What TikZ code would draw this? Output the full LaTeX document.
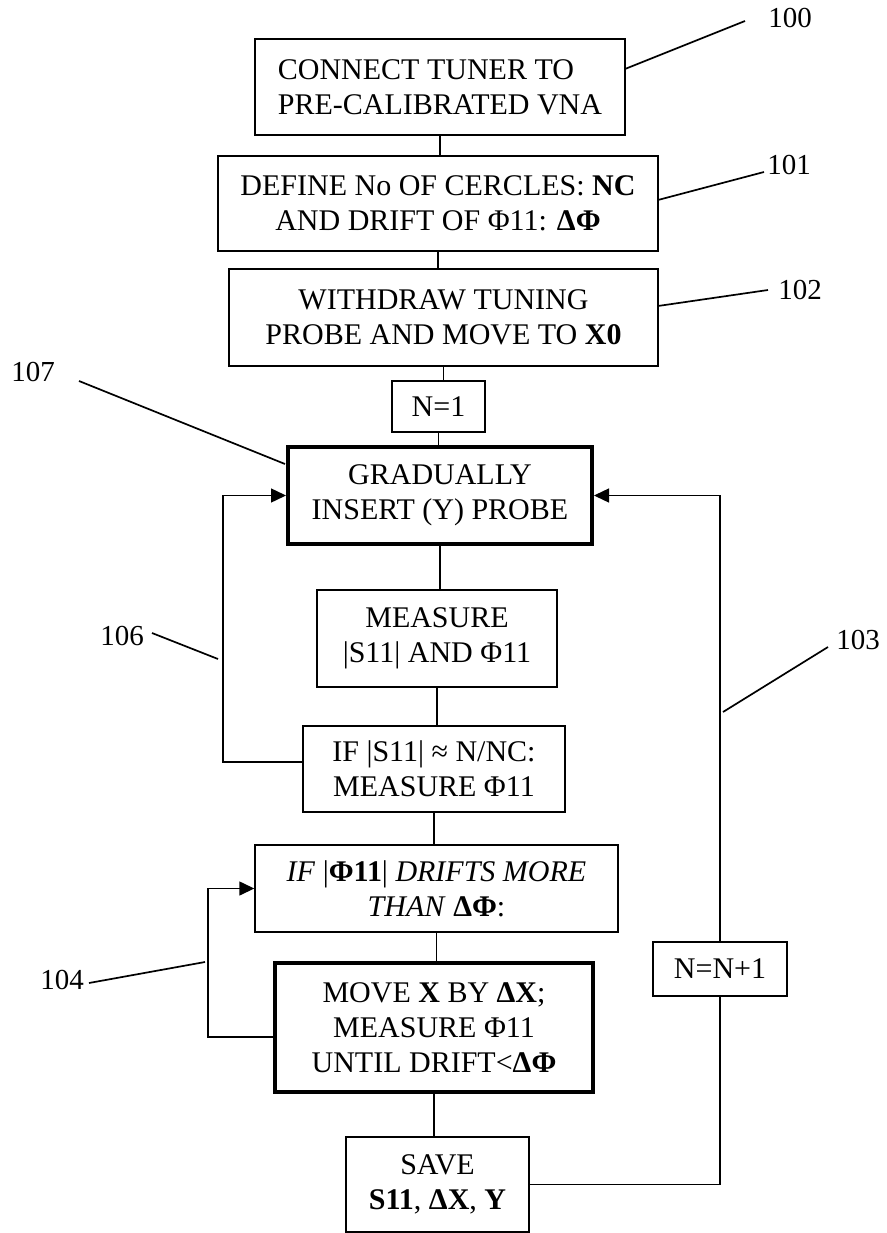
\documentclass[tikz,border=0pt]{standalone}
\usepackage{fontspec}
\setmainfont{Liberation Serif}
\usetikzlibrary{arrows.meta}
\begin{document}
\begin{tikzpicture}[x=1pt,y=-1pt,
  txt/.style={font=\fontsize{30}{35}\selectfont, align=center, inner sep=0pt},
  box/.style={txt, draw, line width=1.4pt, rectangle},
  thickbox/.style={box, line width=4pt},
  conn/.style={line width=1.4pt},
  arr/.style={line width=1.4pt, -{Triangle[length=15pt,width=14pt]}},
  lead/.style={line width=1.7pt},
  lbl/.style={font=\fontsize{29}{34}\selectfont, inner sep=0pt}]
\useasboundingbox (0,0) rectangle (886,1233);
% boxes
\node[box, align=left, minimum width=370, minimum height=96] (b100) at (440,87) {CONNECT TUNER TO\\PRE-CALIBRATED VNA};
\node[box, minimum width=440, minimum height=95] (b101) at (438,203.5) {DEFINE No OF CERCLES: \textbf{NC}\\AND DRIFT OF Φ11: \textbf{ΔΦ}};
\node[box, minimum width=429, minimum height=97] (b102) at (443.5,317.5) {WITHDRAW TUNING\\PROBE AND MOVE TO \textbf{X0}};
\node[box, minimum width=93, minimum height=51] (n1) at (438.5,406.5) {N=1};
\node[thickbox, minimum width=304, minimum height=97] (grad) at (440,495.5) {GRADUALLY\\INSERT (Y) PROBE};
\node[box, minimum width=240, minimum height=97] (meas) at (437,638.5) {MEASURE\\|S11| AND Φ11};
\node[box, minimum width=262, minimum height=86] (ifs) at (434,769) {IF |S11| ≈ N/NC:\\MEASURE Φ11};
\node[box, minimum width=363, minimum height=87] (ifp) at (436.5,888.5) {\textit{IF} |\textbf{Φ11}| \textit{DRIFTS MORE}\\\textit{THAN} \textbf{ΔΦ}:};
\node[thickbox, minimum width=318, minimum height=129] (move) at (434,1027.5) {MOVE \textbf{X} BY \textbf{ΔX};\\MEASURE Φ11\\UNTIL DRIFT<\textbf{ΔΦ}};
\node[box, minimum width=183, minimum height=95] (save) at (437.5,1184.5) {SAVE\\\textbf{S11}, \textbf{ΔX}, \textbf{Y}};
\node[box, minimum width=134, minimum height=54] (nn) at (720,969) {N=N+1};
% vertical connectors
\draw[conn] (b100.south) -- (b100.south |- b101.north);
\draw[conn] (b101.south) -- (b101.south |- b102.north);
\draw[conn] (b102.south) -- (b102.south |- n1.north);
\draw[conn] (n1.south) -- (n1.south |- grad.north);
\draw[conn] (grad.south) -- (grad.south |- meas.north);
\draw[conn] (meas.south) -- (meas.south |- ifs.north);
\draw[conn] (ifs.south) -- (ifs.south |- ifp.north);
\draw[conn] (ifp.south) -- (ifp.south |- move.north);
\draw[conn] (move.south) -- (move.south |- save.north);
% loops
\coordinate (x106) at (223,0);
\coordinate (x104) at (208,0);
\draw[arr] ([yshift=7pt]ifs.west) -- ([yshift=7pt]ifs.west -| x106) -- (x106 |- grad.west) -- (grad.west);
\draw[arr] ([yshift=-9.5pt]move.west) -- ([yshift=-9.5pt]move.west -| x104) -- (x104 |- ifp.west) -- (ifp.west);
\draw[conn] (save.east) -- (save.east -| nn.south) -- (nn.south);
\draw[arr] (nn.north) -- (nn.north |- grad.east) -- (grad.east);
% reference labels
\node[lbl] (l100) at (790,18) {100};
\node[lbl] (l101) at (789,165) {101};
\node[lbl] (l102) at (800,290) {102};
\node[lbl] (l107) at (33,372) {107};
\node[lbl] (l106) at (122,636) {106};
\node[lbl] (l103) at (858,640) {103};
\node[lbl] (l104) at (62,980) {104};
\coordinate (a100) at (745,21); \coordinate (c100) at (625,69);
\coordinate (a101) at (764,172); \coordinate (c101) at (658,200);
\coordinate (a102) at (768,290); \coordinate (c102) at (658,306);
\coordinate (a107) at (79,381); \coordinate (c107) at (285,464);
\coordinate (a106) at (152,633); \coordinate (c106) at (218,659);
\coordinate (a103) at (828,647); \coordinate (c103) at (723,712);
\coordinate (a104) at (89,983); \coordinate (c104) at (205,962);
\draw[lead] (a100) -- (c100);
\draw[lead] (a101) -- (c101);
\draw[lead] (a102) -- (c102);
\draw[lead] (a107) -- (c107);
\draw[lead] (a106) -- (c106);
\draw[lead] (a103) -- (c103);
\draw[lead] (a104) -- (c104);
\end{tikzpicture}
\end{document}
